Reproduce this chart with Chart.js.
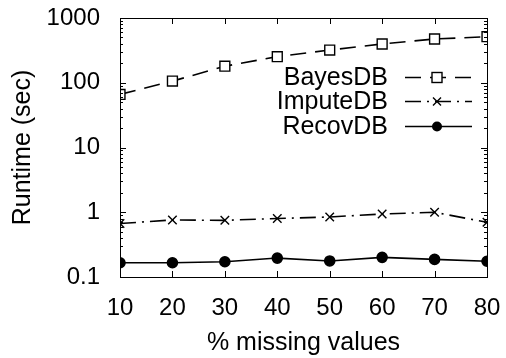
<!DOCTYPE html>
<html lang="en">
<head>
<meta charset="UTF-8">
<title>Runtime vs % missing values</title>
<script src="https://cdn.jsdelivr.net/npm/chart.js"></script>
<style>
  html, body { margin: 0; padding: 0; background: #fff; }
  #wrap { width: 506px; height: 358px; }
</style>
</head>
<body>
<div id="wrap"><canvas id="runtimeChart" width="506" height="358"></canvas></div>
<script>
// data
const pctMissing = [10, 20, 30, 40, 50, 60, 70, 80];
const bayesDB = [66, 106, 180, 253, 320, 397, 474, 514];
const imputeDB = [0.67, 0.76, 0.75, 0.8, 0.845, 0.94, 1.0, 0.7];
const recovDB = [0.166, 0.166, 0.172, 0.196, 0.177, 0.201, 0.187, 0.175];
const yTicks = [0.1, 1, 10, 100, 1000];
const seriesNames = ["BayesDB", "ImputeDB", "RecovDB"];

const FONT = "'Liberation Sans', Arial, Helvetica, sans-serif";

function pts(vals) {
  return pctMissing.map((p, i) => ({ x: p, y: vals[i] }));
}

// no extra label padding, layout.padding alone places the plot box
function noPad(scale) {
  scale.paddingTop = 0;
  scale.paddingBottom = 0;
  scale.paddingLeft = 0;
  scale.paddingRight = 0;
}

// gnuplot-style frame, inward ticks, and legend drawn inside the plot
const framePlugin = {
  id: "frame",
  afterDraw(chart) {
    const ctx = chart.ctx;
    const a = chart.chartArea;
    const xs = chart.scales.x, ys = chart.scales.y;
    ctx.save();
    ctx.strokeStyle = "#000";
    ctx.lineWidth = 1;
    ctx.strokeRect(a.left + 0.5, a.top + 0.5, a.right - a.left, a.bottom - a.top);
    ctx.beginPath();
    pctMissing.forEach((p) => {
      const px = Math.round(xs.getPixelForValue(p)) + 0.5;
      ctx.moveTo(px, a.bottom); ctx.lineTo(px, a.bottom - 6);
      ctx.moveTo(px, a.top); ctx.lineTo(px, a.top + 6);
    });
    yTicks.forEach((v, i) => {
      const py = Math.round(ys.getPixelForValue(v)) + 0.5;
      ctx.moveTo(a.left, py); ctx.lineTo(a.left + 6, py);
      ctx.moveTo(a.right, py); ctx.lineTo(a.right - 6, py);
      if (i < yTicks.length - 1) {
        for (let k = 2; k < 10; k++) {
          const my = Math.round(ys.getPixelForValue(v * k)) + 0.5;
          ctx.moveTo(a.left, my); ctx.lineTo(a.left + 3, my);
          ctx.moveTo(a.right, my); ctx.lineTo(a.right - 3, my);
        }
      }
    });
    ctx.stroke();

    // legend
    const textRight = 388, lineL = 405, lineR = 472, mid = 437;
    const rows = [77, 101, 126];
    ctx.font = "25px " + FONT;
    ctx.fillStyle = "#000";
    ctx.textAlign = "right";
    ctx.textBaseline = "middle";
    chart.data.datasets.forEach((ds, i) => {
      const y = rows[i] + 0.5;
      ctx.fillText(ds.label, textRight, rows[i] + 1);
      ctx.lineWidth = 1.6;
      ctx.setLineDash(ds.borderDash || []);
      ctx.beginPath();
      ctx.moveTo(lineL, y); ctx.lineTo(lineR, y);
      ctx.stroke();
      ctx.setLineDash([]);
      ctx.lineWidth = 1.4;
      if (ds.pointStyle === "rect") {
        ctx.fillStyle = "#fff";
        ctx.fillRect(mid - 5, y - 5, 10, 10);
        ctx.strokeRect(mid - 5, y - 5, 10, 10);
        ctx.fillStyle = "#000";
      } else if (ds.pointStyle === "crossRot") {
        ctx.beginPath();
        ctx.moveTo(mid - 4, y - 4); ctx.lineTo(mid + 4, y + 4);
        ctx.moveTo(mid - 4, y + 4); ctx.lineTo(mid + 4, y - 4);
        ctx.stroke();
      } else {
        ctx.beginPath();
        ctx.arc(mid, y, 5, 0, Math.PI * 2);
        ctx.fill();
      }
    });
    ctx.restore();
  }
};

const ctx = document.getElementById("runtimeChart").getContext("2d");
new Chart(ctx, {
  type: "line",
  data: {
    datasets: [
      {
        label: seriesNames[0],
        data: pts(bayesDB),
        borderColor: "#000",
        borderWidth: 1.6,
        borderDash: [16, 9],
        pointStyle: "rect",
        pointRadius: 7,
        pointBorderWidth: 1.4,
        pointBackgroundColor: "#fff",
        pointBorderColor: "#000"
      },
      {
        label: seriesNames[1],
        data: pts(imputeDB),
        borderColor: "#000",
        borderWidth: 1.6,
        borderDash: [16, 6, 2, 6],
        pointStyle: "crossRot",
        pointRadius: 6,
        pointBorderWidth: 1.4,
        pointBorderColor: "#000"
      },
      {
        label: seriesNames[2],
        data: pts(recovDB),
        borderColor: "#000",
        borderWidth: 1.6,
        pointStyle: "circle",
        pointRadius: 5,
        pointBackgroundColor: "#000",
        pointBorderColor: "#000"
      }
    ]
  },
  options: {
    responsive: false,
    animation: false,
    layout: { padding: { left: 0, top: 18, right: 19, bottom: 0 } },
    plugins: { legend: { display: false }, tooltip: { enabled: false } },
    scales: {
      x: {
        type: "linear",
        min: 10,
        max: 80,
        grid: { display: false, drawTicks: false },
        border: { display: false },
        ticks: {
          stepSize: 10,
          padding: 17,
          color: "#000",
          font: { family: FONT, size: 24 }
        },
        title: {
          display: true,
          text: "% missing values",
          color: "#000",
          font: { family: FONT, size: 25 },
          padding: { top: 0, bottom: 0 }
        },
        afterFit(scale) { scale.height = 81; noPad(scale); }
      },
      y: {
        type: "logarithmic",
        min: 0.1,
        max: 1000,
        grid: { display: false, drawTicks: false },
        border: { display: false },
        afterBuildTicks(scale) { scale.ticks = yTicks.map((v) => ({ value: v })); },
        ticks: {
          padding: 20,
          color: "#000",
          font: { family: FONT, size: 24 },
          callback: (v) => String(v)
        },
        title: {
          display: true,
          text: "Runtime (sec)",
          color: "#000",
          font: { family: FONT, size: 25 },
          padding: { top: 8, bottom: 0 }
        },
        afterFit(scale) { scale.width = 120; noPad(scale); }
      }
    }
  },
  plugins: [framePlugin]
});
</script>
</body>
</html>
